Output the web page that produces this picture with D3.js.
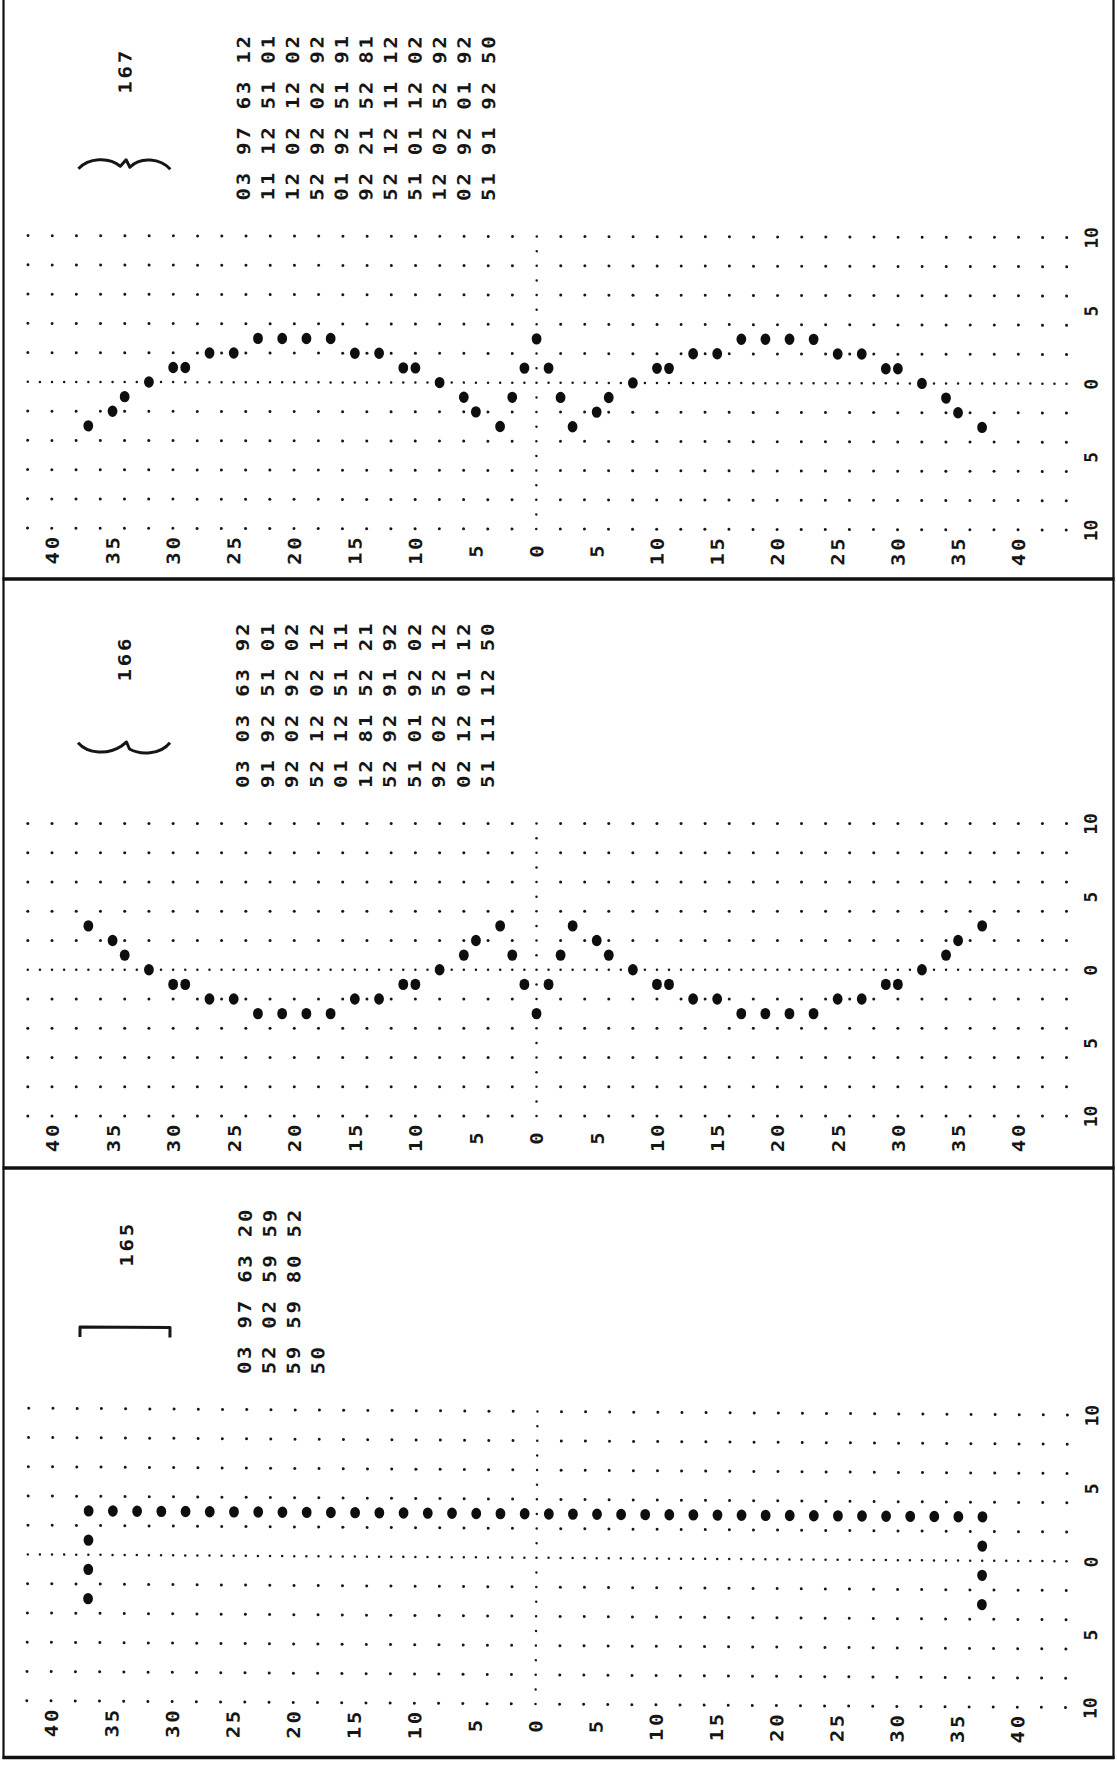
<!DOCTYPE html>
<html>
<head>
<meta charset="utf-8">
<script src="https://cdn.jsdelivr.net/npm/d3@7"></script>
<style>
  html, body { margin: 0; padding: 0; background: #ffffff; }
  svg { display: block; }
</style>
</head>
<body>
<div id="chart"></div>
<script>
// ---- data (x = position, y = offset) ----
const xTicks = [-40, -35, -30, -25, -20, -15, -10, -5, 0, 5, 10, 15, 20, 25, 30, 35, 40];
const yTicks = [10, 5, 0, -5, -10];

const panelIds = ["167", "166", "165"];

const x167 = [-37, -35, -34, -32, -30, -29, -27, -25, -23, -21, -19, -17, -15, -13, -11, -10, -8, -6, -5, -3, -2, -1, 0,
  1, 2, 3, 5, 6, 8, 10, 11, 13, 15, 17, 19, 21, 23, 25, 27, 29, 30, 32, 34, 35, 37];
const y167 = [-3, -2, -1, 0, 1, 1, 2, 2, 3, 3, 3, 3, 2, 2, 1, 1, 0, -1, -2, -3, -1, 1, 3,
  1, -1, -3, -2, -1, 0, 1, 1, 2, 2, 3, 3, 3, 3, 2, 2, 1, 1, 0, -1, -2, -3];

const x166 = [-37, -35, -34, -32, -30, -29, -27, -25, -23, -21, -19, -17, -15, -13, -11, -10, -8, -6, -5, -3, -2, -1, 0,
  1, 2, 3, 5, 6, 8, 10, 11, 13, 15, 17, 19, 21, 23, 25, 27, 29, 30, 32, 34, 35, 37];
const y166 = [3, 2, 1, 0, -1, -1, -2, -2, -3, -3, -3, -3, -2, -2, -1, -1, 0, 1, 2, 3, 1, -1, -3,
  -1, 1, 3, 2, 1, 0, -1, -1, -2, -2, -3, -3, -3, -3, -2, -2, -1, -1, 0, 1, 2, 3];

const x165 = [-37, -37, -37, -37, -35, -33, -31, -29, -27, -25, -23, -21, -19, -17, -15, -13, -11, -9, -7, -5, -3, -1,
  1, 3, 5, 7, 9, 11, 13, 15, 17, 19, 21, 23, 25, 27, 29, 31, 33, 35, 37, 37, 37, 37];
const y165 = [-3, -1, 1, 3, 3, 3, 3, 3, 3, 3, 3, 3, 3, 3, 3, 3, 3, 3, 3, 3, 3, 3,
  3, 3, 3, 3, 3, 3, 3, 3, 3, 3, 3, 3, 3, 3, 3, 3, 3, 3, 3, 1, -1, -3];

const lines167 = ["03 97 63 12", "11 12 51 01", "12 02 12 02", "52 92 02 92", "01 92 51 91", "92 21 52 81",
  "52 12 11 12", "51 01 12 02", "12 02 52 92", "02 92 01 92", "51 91 92 50"];
const lines166 = ["03 03 63 92", "91 92 51 01", "92 02 92 02", "52 12 02 12", "01 12 51 11", "12 81 52 21",
  "52 92 91 92", "51 01 92 02", "92 02 52 12", "02 12 01 12", "51 11 12 50"];
const lines165 = ["03 97 63 20", "52 02 59 59", "59 59 80 52", "50"];

// ---- layout ----
const W = 1117, H = 1766;
const ink = "#161616";
const font = "DejaVu Sans Mono";
const stretch = 1.15;
const panelTop = [0, 587, 1175];
const panelTilt = [0.1, 0, 0.38];
const braces = [
  "M78,169.5 C88,159 108,157 120,167 L125.7,160.5 L129.5,168 C140,157 160,159 170,170",
  "M78,155.7 C88,167 108,168 121.5,159 L126.5,155 L129.5,162 C140,168 160,168 170,155.7",
  "M78.5,165 V155 H168.5 V165"
];

const panels = [
  { id: panelIds[0], xs: x167, ys: y167, lines: lines167 },
  { id: panelIds[1], xs: x166, ys: y166, lines: lines166 },
  { id: panelIds[2], xs: x165, ys: y165, lines: lines165 }
];

const x = d3.scaleLinear().domain([-42, 0, 44]).range([27.8, 536.5, 1066.5]);
const y = d3.scaleLinear().domain([-10, 10]).range([529, 236.5]);

const svg = d3.select("#chart").append("svg")
  .attr("width", W).attr("height", H)
  .style("background", "#ffffff");

const gridX = d3.range(-42, 45, 2);
const gridY = d3.range(-10, 11, 2);
const zeroRow = d3.range(-42, 45, 1);
const zeroCol = d3.range(-10, 11, 1);

function styleText(sel, spacing) {
  sel.style("font-family", font)
    .style("font-size", "18px")
    .style("font-weight", "bold")
    .style("letter-spacing", spacing + "px")
    .style("fill", ink);
}

panels.forEach((p, i) => {
  const g = svg.append("g")
    .attr("transform", `translate(0,${panelTop[i]}) rotate(${panelTilt[i]},536,382)`);

  // background dot grid
  const gridPts = [];
  gridX.forEach(gx => gridY.forEach(gy => { if (gx !== 0 && gy !== 0) gridPts.push([gx, gy]); }));
  zeroRow.forEach(gx => gridPts.push([gx, 0]));
  zeroCol.forEach(gy => { if (gy !== 0) gridPts.push([0, gy]); });

  g.append("g").selectAll("circle")
    .data(gridPts)
    .enter().append("circle")
    .attr("cx", d => x(d[0]))
    .attr("cy", d => y(d[1]))
    .attr("r", d => (d[0] === 0 || d[1] === 0) ? 1.25 : 1.5)
    .attr("fill", ink);

  // plotted points
  const pts = p.xs.map((v, k) => ({ x: v, y: p.ys[k] }));
  g.append("g").selectAll("ellipse")
    .data(pts)
    .enter().append("ellipse")
    .attr("cx", d => x(d.x))
    .attr("cy", d => y(d.y))
    .attr("rx", 4.9)
    .attr("ry", 5.7)
    .attr("fill", "#0e0e0e");

  // bottom scale (rotated labels)
  const xAxis = g.append("g")
    .attr("transform", "translate(0,551.5)")
    .call(d3.axisBottom(x).tickValues(xTicks).tickFormat(d => Math.abs(d)).tickSize(0));
  xAxis.attr("font-family", null).attr("font-size", null);
  xAxis.select(".domain").remove();
  xAxis.selectAll("text")
    .attr("x", 0).attr("y", 0)
    .attr("dy", "0.36em").attr("dx", 1.2)
    .attr("transform", `rotate(-90) scale(${stretch},1)`)
    .attr("text-anchor", "middle")
    .call(styleText, 2.4);

  // right scale
  const yAxis = g.append("g")
    .attr("transform", "translate(1091,0)")
    .call(d3.axisRight(y).tickValues(yTicks).tickFormat(d => Math.abs(d)).tickSize(0));
  yAxis.attr("font-family", null).attr("font-size", null);
  yAxis.select(".domain").remove();
  yAxis.selectAll("text")
    .attr("x", 0).attr("y", 0)
    .attr("dy", "0.36em")
    .attr("transform", "rotate(-90)")
    .attr("text-anchor", "middle")
    .call(styleText, 0);

  // run number and brace
  g.append("text")
    .attr("transform", `translate(124.5,73) rotate(-90) scale(${stretch},1)`)
    .attr("dy", "0.36em").attr("dx", 1.2)
    .attr("text-anchor", "middle")
    .call(styleText, 2.4)
    .text(p.id);

  g.append("path")
    .attr("d", braces[i])
    .attr("fill", "none")
    .attr("stroke", ink)
    .attr("stroke-width", 3)
    .attr("stroke-linejoin", "round");

  // printed code lines
  g.append("g").selectAll("text")
    .data(p.lines)
    .enter().append("text")
    .attr("transform", (d, k) => `translate(${243 + k * 24.5},201) rotate(-90) scale(${stretch},1)`)
    .attr("dy", "0.36em")
    .attr("text-anchor", "start")
    .call(styleText, 2.4)
    .text(d => d);
});

// frame
const frame = svg.append("g").attr("stroke", "#111").attr("fill", "none");
frame.append("line").attr("x1", 3.5).attr("x2", 3.5).attr("y1", 0).attr("y2", 1759).attr("stroke-width", 2.2);
frame.append("line").attr("x1", 1113.5).attr("x2", 1113.5).attr("y1", 0).attr("y2", 1759).attr("stroke-width", 2.2);
[579, 1168, 1757.5].forEach(ly => {
  frame.append("line").attr("x1", 2.5).attr("x2", 1114.5).attr("y1", ly).attr("y2", ly).attr("stroke-width", 3.5);
});
</script>
</body>
</html>
